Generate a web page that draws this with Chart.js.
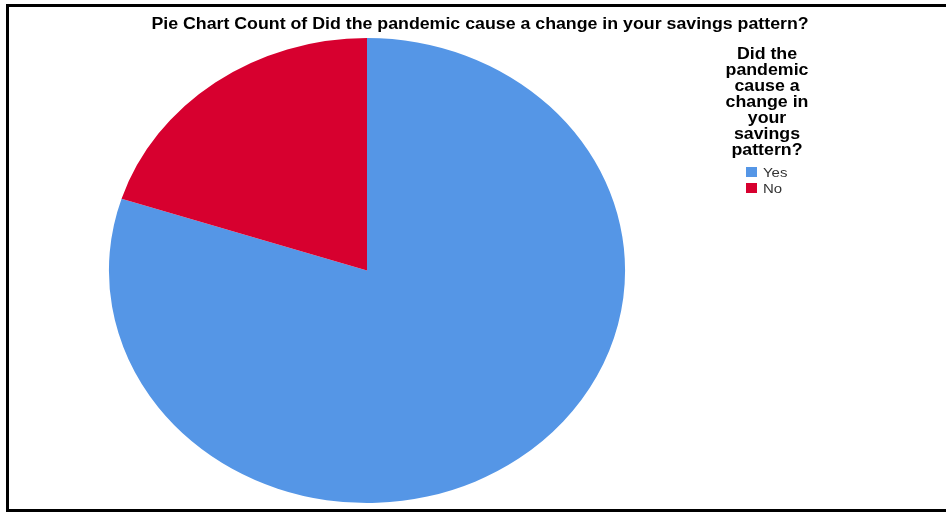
<!DOCTYPE html>
<html>
<head>
<meta charset="utf-8">
<script src="https://cdn.jsdelivr.net/npm/chart.js@4/dist/chart.umd.min.js"></script>
<style>
  html, body { margin: 0; padding: 0; background: #fff; overflow: hidden; }
  #wrap { position: relative; width: 946px; height: 512px; overflow: hidden; background: #fff;
          font-family: "Liberation Sans", Arial, sans-serif; }
  #frame { position: absolute; left: 6px; top: 4px; width: 940px; height: 508px;
           border-left: 3px solid #000; border-top: 3px solid #000; border-bottom: 3px solid #000;
           border-right: none; box-sizing: border-box; }
  #chart { position: absolute; left: 0; top: 0; }
  #title { position: absolute; left: 480px; top: 16px; white-space: nowrap;
           font-weight: bold; font-size: 16px; line-height: 16px; color: #000;
           transform: translateX(-50%) scaleX(1.11); }
  #legendTitle { position: absolute; left: 707px; top: 45.5px; width: 120px; text-align: center;
                 font-weight: bold; font-size: 16px; line-height: 16px; color: #000;
                 transform: scaleX(1.11); transform-origin: 60px 0; }
  .item { position: absolute; left: 746px; height: 16px; }
  .box { position: absolute; left: 0; top: 2.5px; width: 11px; height: 10px; }
  .lbl { position: absolute; left: 17px; top: 0; font-size: 13.5px; line-height: 16px; color: #333;
         white-space: nowrap; transform: scaleX(1.11); transform-origin: 0 0; }
</style>
</head>
<body>
<div id="wrap">
  <canvas id="chart" width="946" height="512"></canvas>
  <div id="frame"></div>
  <div id="title"></div>
  <div id="legendTitle"></div>
  <div id="legend"></div>
</div>
<script>
// Survey answers and their share of responses
const categories = ['Yes', 'No'];
const counts = [80, 20];
const colors = ['#5596E6', '#D7002F'];
const titleText = 'Pie Chart Count of Did the pandemic cause a change in your savings pattern?';
const legendTitleLines = ['Did the', 'pandemic', 'cause a', 'change in', 'your', 'savings', 'pattern?'];

// horizontal stretch of the pie (ellipse)
const STRETCH_X = 1.11;

document.getElementById('title').textContent = titleText;
const lt = document.getElementById('legendTitle');
legendTitleLines.forEach((s, i) => {
  if (i) lt.appendChild(document.createElement('br'));
  lt.appendChild(document.createTextNode(s));
});

const legend = document.getElementById('legend');
categories.forEach((c, i) => {
  const item = document.createElement('div');
  item.className = 'item';
  item.style.top = (164.5 + i * 16) + 'px';
  const box = document.createElement('div');
  box.className = 'box';
  box.style.background = colors[i];
  const lbl = document.createElement('div');
  lbl.className = 'lbl';
  lbl.textContent = c;
  item.appendChild(box);
  item.appendChild(lbl);
  legend.appendChild(item);
});

// Stretch the arcs horizontally around the pie centre
const ellipsePlugin = {
  id: 'ellipse',
  beforeDatasetsDraw(chart) {
    const arc = chart.getDatasetMeta(0).data[0];
    if (!arc) return;
    const ctx = chart.ctx;
    ctx.save();
    ctx.translate(arc.x, arc.y);
    ctx.scale(STRETCH_X, 1);
    ctx.translate(-arc.x, -arc.y);
  },
  afterDatasetsDraw(chart) {
    chart.ctx.restore();
  }
};

new Chart(document.getElementById('chart'), {
  type: 'pie',
  data: {
    labels: categories,
    datasets: [{
      data: counts,
      backgroundColor: colors,
      borderWidth: 0,
      hoverOffset: 0
    }]
  },
  options: {
    responsive: false,
    animation: false,
    events: [],
    layout: { padding: { left: 134.5, right: 346.5, top: 38, bottom: 9 } },
    plugins: {
      legend: { display: false },
      title: { display: false },
      tooltip: { enabled: false }
    }
  },
  plugins: [ellipsePlugin]
});
</script>
</body>
</html>
